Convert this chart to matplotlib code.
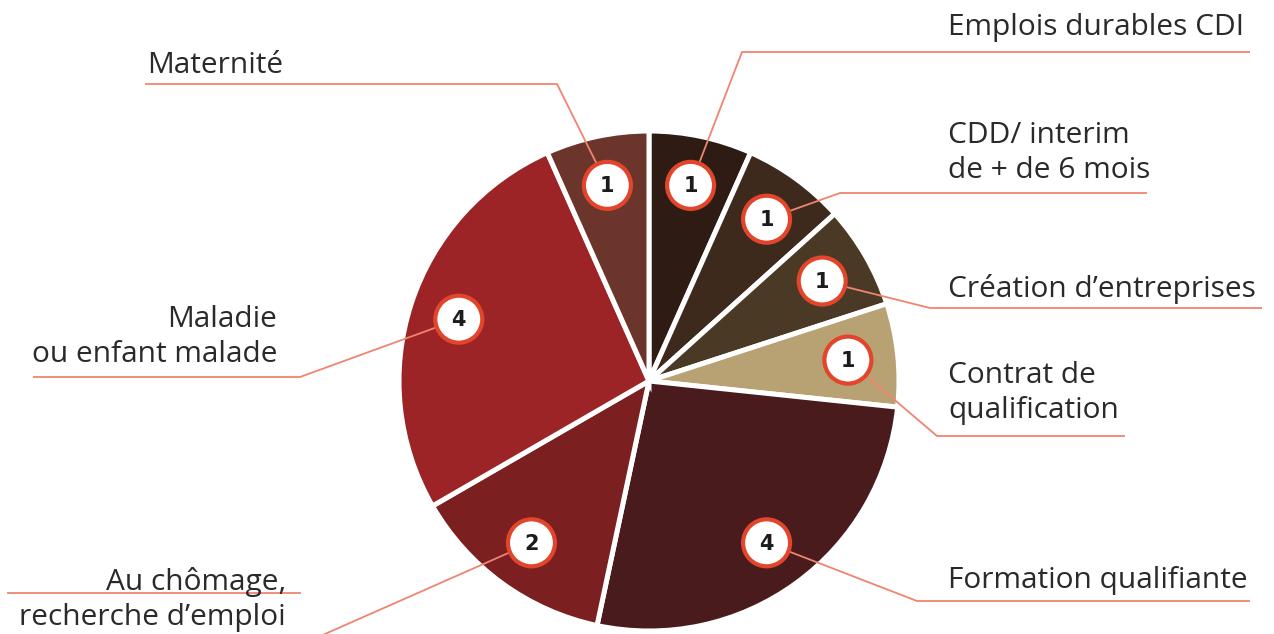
import matplotlib
matplotlib.use("Agg")
import matplotlib.pyplot as plt
from matplotlib.patches import Circle
import numpy as np

# ---- data ----
categories = ["Emplois durables CDI", "CDD/ interim\nde + de 6 mois", "Création d\u2019entreprises",
              "Contrat de\nqualification", "Formation qualifiante", "Au chômage,\nrecherche d\u2019emploi",
              "Maladie\nou enfant malade", "Maternité"]
values = [1, 1, 1, 1, 4, 2, 4, 1]
colors = ["#2e1c14", "#3d2a1d", "#4a3a25", "#b8a273", "#4a1b1d", "#7c1f20", "#9d2426", "#6c352c"]

# ---- layout (image pixel coords, y downward) ----
W, H = 1274, 634
CX, CY, R = 649, 381, 250
leaders = [
    [(742, 52), (1250, 52)],
    [(840, 193), (1147, 193)],
    [(930, 308), (1262, 308)],
    [(937, 436), (1125, 436)],
    [(917, 601), (1250, 601)],
    [(300, 645)],
    [(300, 377), (33, 377)],
    [(557, 84), (145, 84)],
]
text_pos = [
    (948, 35, "left"),
    (948, 143, "left"),
    (948, 297, "left"),
    (948, 383, "left"),
    (948, 588, "left"),
    (286, 590, "right"),
    (277, 327, "right"),
    (147, 73, "left"),
]
extra_lines = [[(8, 593), (300, 593)]]
line_step = 35

def Y(y):
    return H - y

fig = plt.figure(figsize=(W / 100, H / 100), dpi=100)
ax = fig.add_axes([0, 0, 1, 1])
wedges, _ = ax.pie(values, colors=colors, startangle=90, counterclock=False,
                   center=(CX, Y(CY)), radius=R, frame=True,
                   wedgeprops=dict(edgecolor="white", linewidth=3.6))
ax.set_xlim(0, W)
ax.set_ylim(0, H)
ax.set_aspect("equal")
ax.axis("off")

lc = "#ef8570"
tc = "#2a2a2a"
font = "Open Sans"

for i, w in enumerate(wedges):
    mid = np.deg2rad((w.theta1 + w.theta2) / 2)
    px = CX + 0.8 * R * np.cos(mid)
    py = Y(CY) + 0.8 * R * np.sin(mid)
    pts = [(px, py)] + [(x, Y(y)) for x, y in leaders[i]]
    xs, ys = zip(*pts)
    ax.plot(xs, ys, color=lc, lw=1.3, zorder=3, solid_capstyle="butt")
    ax.add_patch(Circle((px, py), 23.5, facecolor="white", edgecolor="#e2452b", lw=3.0, zorder=4))
    ax.text(px, py - 1, str(values[i]), ha="center", va="center", fontsize=15,
            fontweight="heavy", color="#1c1c1c", family="DejaVu Sans", zorder=5)
    tx, ty, ha = text_pos[i]
    for k, line in enumerate(categories[i].split("\n")):
        ax.text(tx, Y(ty + k * line_step), line, ha=ha, va="baseline", fontsize=21.5,
                fontweight="medium", color=tc, family=font, zorder=5)

for seg in extra_lines:
    xs, ys = zip(*[(x, Y(y)) for x, y in seg])
    ax.plot(xs, ys, color=lc, lw=1.3, zorder=3)

fig.savefig("out.png", dpi=100, facecolor="white")
